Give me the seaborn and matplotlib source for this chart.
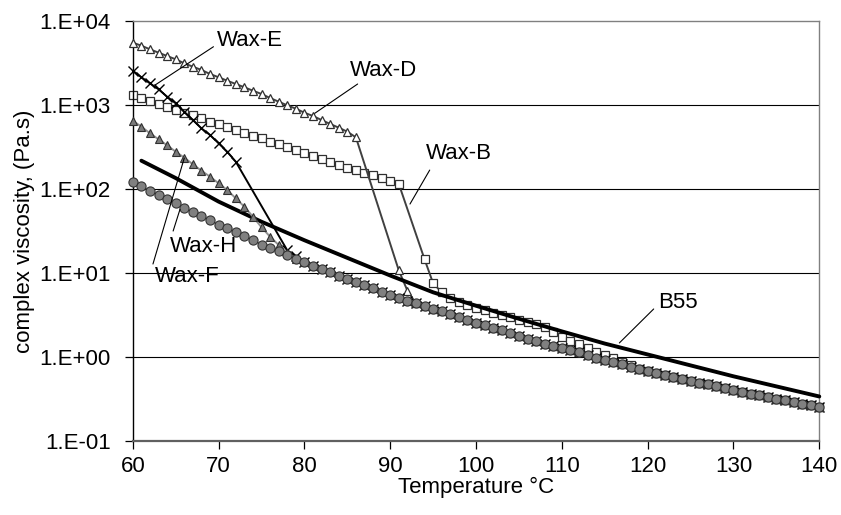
import numpy as np
import pandas as pd
import matplotlib
matplotlib.use("Agg")
import matplotlib.pyplot as plt
import matplotlib.ticker as mticker
import seaborn as sns

# ---------------- data (log10 of complex viscosity, Pa.s) ----------------
T_H = list(range(60, 141))
logH = [2.087, 2.030, 1.980, 1.929, 1.879, 1.831, 1.774, 1.726, 1.676, 1.627,
        1.575, 1.530, 1.485, 1.443, 1.389, 1.339, 1.299, 1.258, 1.212, 1.168,
        1.127, 1.089, 1.050, 1.012, 0.970, 0.932, 0.893, 0.857, 0.818, 0.774,
        0.742, 0.702, 0.670, 0.637, 0.604, 0.571, 0.542, 0.507, 0.474, 0.439,
        0.405, 0.376, 0.345, 0.318, 0.282, 0.250, 0.220, 0.188, 0.160, 0.131,
        0.104, 0.079, 0.054, 0.021, -0.010, -0.036, -0.063, -0.089, -0.117, -0.140,
        -0.167, -0.190, -0.211, -0.236, -0.260, -0.283, -0.306, -0.327, -0.348, -0.369,
        -0.390, -0.411, -0.435, -0.455, -0.476, -0.496, -0.515, -0.536, -0.555, -0.577,
        -0.595]

T_D = list(range(60, 87)) + list(range(91, 141))
logD = [3.742, 3.706, 3.663, 3.623, 3.583, 3.544, 3.496, 3.456, 3.417, 3.369,
        3.330, 3.289, 3.250, 3.211, 3.170, 3.131, 3.083, 3.039, 2.996, 2.956,
        2.908, 2.869, 2.821, 2.774, 2.730, 2.682, 2.615] + [1.03, 0.79] + logH[33:]

T_E = list(range(60, 73)) + list(range(78, 141))
logE = [3.408, 3.330, 3.258, 3.187, 3.099, 3.020, 2.920, 2.821, 2.722, 2.643,
        2.544, 2.444, 2.325] + [1.27, 1.20] + logH[20:]

T_F = list(range(60, 141))
logF = [2.813, 2.742, 2.663, 2.592, 2.520, 2.444, 2.373, 2.294, 2.218, 2.146,
        2.068, 1.988, 1.889, 1.789, 1.670, 1.544, 1.432, 1.333] + [1.235] + logH[19:]

T_B = list(range(60, 92)) + list(range(94, 141))
logB = [3.119, 3.080, 3.048, 3.012, 2.980, 2.940, 2.908, 2.881, 2.842, 2.801,
        2.770, 2.735, 2.702, 2.670, 2.635, 2.604, 2.563, 2.532, 2.496, 2.464,
        2.425, 2.393, 2.354, 2.321, 2.286, 2.254, 2.226, 2.194, 2.167, 2.131,
        2.095, 2.060] + \
       [1.163, 0.877, 0.770, 0.706, 0.651, 0.619, 0.587, 0.560, 0.527, 0.500,
        0.473, 0.440, 0.413, 0.389, 0.354, 0.301, 0.234, 0.190, 0.150, 0.110,
        0.065, 0.025, -0.015, -0.060, -0.100] + logH[59:]

T_B55 = [61, 65, 70, 75, 80, 85, 90, 95, 100, 105, 110, 115, 120, 125, 130, 135, 140]
logB55 = [2.337, 2.130, 1.850, 1.610, 1.390, 1.180, 0.970, 0.770, 0.610, 0.455,
          0.305, 0.160, 0.030, -0.100, -0.230, -0.350, -0.470]

yticks = [1e-1, 1e0, 1e1, 1e2, 1e3, 1e4]
xticks = [60, 70, 80, 90, 100, 110, 120, 130, 140]

# labels: (text, text_T, text_eta, leader_start_T, leader_start_eta, leader_end_T, leader_end_eta)
labels = [
    ("Wax-E", 69.8, 5780, 69.4, 4940, 62.6, 1730),
    ("Wax-D", 85.3, 2540, 86.2, 1778, 81.2, 796),
    ("Wax-B", 94.1, 268, 94.6, 168, 92.3, 66.2),
    ("Wax-H", 64.3, 20.9, 64.7, 31.6, 65.5, 57.3),
    ("Wax-F", 62.6, 9.2, 62.35, 12.8, 66.0, 234),
    ("B55", 121.2, 4.4, 120.7, 3.73, 116.7, 1.47),
]

def frame(T, logv, name):
    return pd.DataFrame({"T": T, "eta": 10 ** np.array(logv), "series": name})

# ---------------- plot ----------------
sns.set_theme(style="white")
plt.rcParams["font.family"] = ["Liberation Sans", "DejaVu Sans"]

FS = 16

fig = plt.figure(figsize=(8.41, 5.15), dpi=100)
ax = fig.add_axes([132.8 / 841, 1 - 441 / 515, (819.3 - 132.8) / 841, 420 / 515])

# gridlines
for yv in [1e0, 1e1, 1e2, 1e3]:
    ax.axhline(yv, color="black", lw=0.8, zorder=0.5)

common = dict(ax=ax, x="T", y="eta", clip_on=False)
sns.lineplot(data=frame(T_B, logB, "Wax-B"), color="#404040",
             lw=1.4, marker="s", markersize=6.0, markerfacecolor="white",
             markeredgecolor="#303030", markeredgewidth=0.9, zorder=2, **common)
sns.lineplot(data=frame(T_D, logD, "Wax-D"), color="#404040",
             lw=1.4, marker="^", markersize=6.0, markerfacecolor="white",
             markeredgecolor="#303030", markeredgewidth=0.9, zorder=3, **common)
sns.lineplot(data=frame(T_E, logE, "Wax-E"), color="black",
             lw=1.4, marker="x", markersize=7.0, markeredgecolor="black",
             markeredgewidth=1.0, zorder=4, **common)
sns.lineplot(data=frame(T_B55, logB55, "B55"), color="black",
             lw=2.8, zorder=5, **common)
sns.lineplot(data=frame(T_F, logF, "Wax-F"), color="#909090",
             lw=1.4, marker="^", markersize=6.0, markerfacecolor="#7a7a7a",
             markeredgecolor="#303030", markeredgewidth=0.8, zorder=6, **common)
sns.lineplot(data=frame(T_H, logH, "Wax-H"), color="#505050",
             lw=1.0, marker="o", markersize=6.6, markerfacecolor="#808080",
             markeredgecolor="#333333", markeredgewidth=0.8, zorder=7, **common)

ax.set_yscale("log")
ax.set_xlim(60, 140)
ax.set_ylim(1e-1, 1e4)
ax.yaxis.set_major_locator(mticker.FixedLocator(yticks))
ax.yaxis.set_minor_locator(mticker.NullLocator())
ax.yaxis.set_major_formatter(mticker.FuncFormatter(
    lambda v, p: "1.E{:+03d}".format(int(round(np.log10(v))))))
ax.xaxis.set_major_locator(mticker.FixedLocator(xticks))
ax.xaxis.set_major_formatter(mticker.FuncFormatter(lambda v, p: "%d" % v))

ax.tick_params(axis="both", which="major", direction="out", length=6, width=0.9,
               color="black", labelsize=FS, labelcolor="black",
               bottom=True, left=True)
ax.tick_params(axis="y", pad=10)
ax.tick_params(axis="x", pad=5)
ax.set_xlabel("Temperature °C", fontsize=FS, color="black", labelpad=0)
ax.set_ylabel("complex viscosity, (Pa.s)", fontsize=FS, color="black", labelpad=3)

for side in ["top", "right"]:
    ax.spines[side].set_visible(True)
    ax.spines[side].set_color("#808080")
    ax.spines[side].set_linewidth(1.0)
ax.spines["left"].set_color("black")
ax.spines["left"].set_linewidth(1.0)
ax.spines["bottom"].set_color("#606060")
ax.spines["bottom"].set_linewidth(1.6)

for txt, tx, ty, sx, sy, ex, ey in labels:
    ax.text(tx, ty, txt, fontsize=FS, ha="left", va="center", color="black", zorder=10)
    ax.plot([sx, ex], [sy, ey], color="black", lw=0.8, zorder=10)

if ax.get_legend() is not None:
    ax.get_legend().remove()

fig.savefig("out.png", dpi=100)
